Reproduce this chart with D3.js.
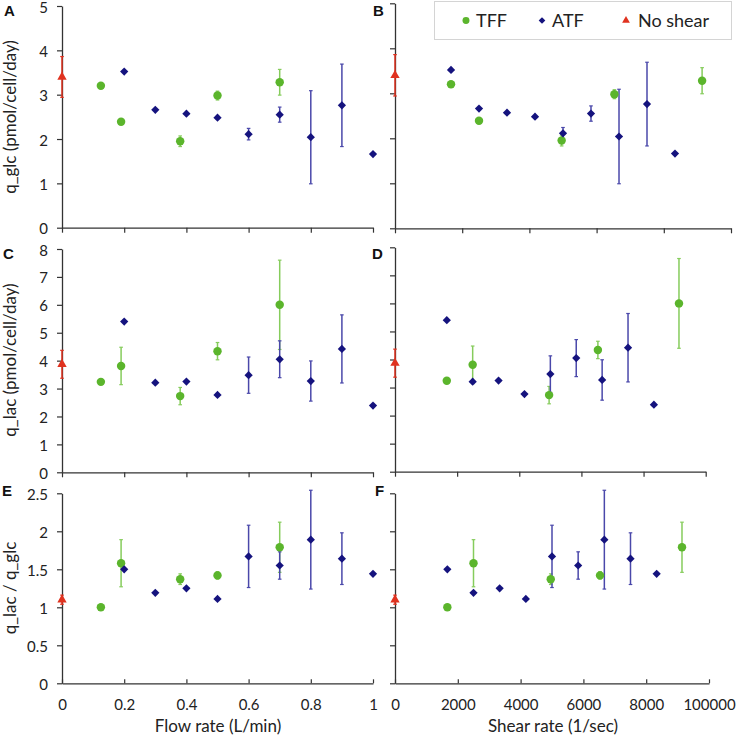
<!DOCTYPE html>
<html>
<head>
<meta charset="utf-8">
<script src="https://cdn.jsdelivr.net/npm/d3@7"></script>
<style>
  html, body { margin: 0; padding: 0; background: #fff; }
  svg { display: block; font-family: Lato, 'Open Sans', sans-serif; }
</style>
</head>
<body>
<div id="chart"></div>
<script>
// ---- data ----
var flowTFF  = [0.125, 0.19, 0.38, 0.5, 0.7];
var shearTFF = [1667, 2500, 4960, 6530, 9140];
var flowATF  = [0.2, 0.3, 0.4, 0.5, 0.6, 0.7, 0.8, 0.9, 1.0];
var shearATF = [1667, 2500, 3333, 4167, 5000, 5833, 6667, 7500, 8333];

var glcTFF     = [3.20, 2.39, 1.95, 2.98, 3.28];
var glcTFFerr  = [0, 0, 0.12, 0.10, 0.29];
var glcATF     = [3.52, 2.66, 2.57, 2.48, 2.11, 2.55, 2.04, 2.76, 1.66];
var glcATFerr  = [0, 0, 0, 0, 0.13, 0.17, 1.05, 0.93, 0];
var glcNoShear = [3.40], glcNoShearErr = [0.46];

var lacTFF     = [3.24, 3.81, 2.73, 4.34, 6.00];
var lacTFFerr  = [0, 0.67, 0.31, 0.31, 1.60];
var lacATF     = [5.40, 3.21, 3.25, 2.77, 3.48, 4.05, 3.27, 4.42, 2.39];
var lacATFerr  = [0, 0, 0, 0, 0.65, 0.66, 0.72, 1.22, 0];
var lacNoShear = [3.87], lacNoShearErr = [0.50];

var ratioTFF     = [1.00, 1.58, 1.37, 1.42, 1.79];
var ratioTFFerr  = [0, 0.31, 0.07, 0.05, 0.33];
var ratioATF     = [1.50, 1.19, 1.25, 1.11, 1.67, 1.55, 1.89, 1.64, 1.44];
var ratioATFerr  = [0, 0, 0, 0, 0.41, 0.18, 0.65, 0.34, 0];
var ratioNoShear = [1.10], ratioNoShearErr = [0.06];

var flowTicks   = [0, 0.2, 0.4, 0.6, 0.8, 1];
var flowLabels  = ['0', '0.2', '0.4', '0.6', '0.8', '1'];
var shearTicks  = [0, 2000, 4000, 6000, 8000, 10000];
var shearLabels = ['0', '2000', '4000', '6000', '8000', '100000'];
var glcTicks    = [0, 1, 2, 3, 4, 5];
var lacTicks    = [0, 1, 2, 3, 4, 5, 6, 7, 8];
var ratioTicks  = [0, 0.5, 1, 1.5, 2, 2.5];

var colTFF = '#5bb52c', colTFFerr = '#86cc5c';
var colATF = '#15137e', colATFerr = '#4a48aa';
var colNo  = '#e0321f';

var W = 736, H = 736;
var svg = d3.select('#chart').append('svg').attr('width', W).attr('height', H);

// panel layout (pixel boxes)
var panels = [
  { id: 'A', x0: 62,  x1: 373,   yb: 227.7, yt: 6,     ymax: 5,   yTicks: glcTicks,   flow: true,  leftLabels: true,  bottom: false,
    tff: glcTFF, tffErr: glcTFFerr, atf: glcATF, atfErr: glcATFerr, no: glcNoShear, noErr: glcNoShearErr, lx: 4, ly: 16 },
  { id: 'B', x0: 395, x1: 731,   yb: 228.3, yt: 3.3,   ymax: 5,   yTicks: glcTicks,   flow: false, leftLabels: false, bottom: false,
    tff: glcTFF, tffErr: glcTFFerr, atf: glcATF, atfErr: glcATFerr, no: glcNoShear, noErr: glcNoShearErr, lx: 373, ly: 16 },
  { id: 'C', x0: 62,  x1: 373,   yb: 472.3, yt: 249,   ymax: 8,   yTicks: lacTicks,   flow: true,  leftLabels: true,  bottom: false,
    tff: lacTFF, tffErr: lacTFFerr, atf: lacATF, atfErr: lacATFerr, no: lacNoShear, noErr: lacNoShearErr, lx: 3, ly: 259 },
  { id: 'D', x0: 395, x1: 705.7, yb: 471.7, yt: 247.3, ymax: 8,   yTicks: lacTicks,   flow: false, leftLabels: false, bottom: false,
    tff: lacTFF, tffErr: lacTFFerr, atf: lacATF, atfErr: lacATFerr, no: lacNoShear, noErr: lacNoShearErr, lx: 372, ly: 259 },
  { id: 'E', x0: 62,  x1: 373,   yb: 683.3, yt: 493.3, ymax: 2.5, yTicks: ratioTicks, flow: true,  leftLabels: true,  bottom: true,
    tff: ratioTFF, tffErr: ratioTFFerr, atf: ratioATF, atfErr: ratioATFerr, no: ratioNoShear, noErr: ratioNoShearErr, lx: 2, ly: 496 },
  { id: 'F', x0: 395, x1: 709,   yb: 683.3, yt: 493.3, ymax: 2.5, yTicks: ratioTicks, flow: false, leftLabels: false, bottom: true,
    tff: ratioTFF, tffErr: ratioTFFerr, atf: ratioATF, atfErr: ratioATFerr, no: ratioNoShear, noErr: ratioNoShearErr, lx: 375, ly: 496 }
];

var circleSym   = d3.symbol().type(d3.symbolCircle).size(56);
var diamondSym  = d3.symbol().type(d3.symbolSquare).size(34);
var triangleSym = d3.symbol().type(d3.symbolTriangle).size(38);

function styleAxis(ax) {
  ax.select('.domain').attr('stroke', '#333').attr('stroke-width', 1.3);
  ax.selectAll('.tick line').attr('stroke', '#333').attr('stroke-width', 1.2);
  ax.selectAll('.tick text').attr('fill', '#222').style('font-size', '15px')
    .style('font-family', 'Lato, sans-serif');
}

function errBars(g, pts, color) {
  var eb = g.append('g');
  pts.filter(function(d){ return d.e > 0; }).forEach(function(d){
    eb.append('line').attr('x1', d.px).attr('x2', d.px).attr('y1', d.top).attr('y2', d.bot)
      .attr('stroke', color).attr('stroke-width', 1.5);
    [d.top, d.bot].forEach(function(yy){
      eb.append('line').attr('x1', d.px - 1.8).attr('x2', d.px + 1.8).attr('y1', yy).attr('y2', yy)
        .attr('stroke', color).attr('stroke-width', 1.2);
    });
  });
}

panels.forEach(function(p) {
  var x = d3.scaleLinear().domain(p.flow ? [0, 1] : [0, 10000]).range([p.x0, p.x1]);
  var y = d3.scaleLinear().domain([0, p.ymax]).range([p.yb, p.yt]);
  var g = svg.append('g');

  // x axis
  var ticks = p.flow ? flowTicks : shearTicks;
  var labels = p.flow ? flowLabels : shearLabels;
  var xa = d3.axisBottom(x).tickValues(ticks).tickSizeOuter(0)
    .tickFormat(function(d, i){ return p.bottom ? labels[i] : ''; });
  if (p.bottom) xa.tickSizeInner(-4).tickPadding(16); else xa.tickSizeInner(5);
  var gx = g.append('g').attr('transform', 'translate(0,' + p.yb + ')').call(xa);
  styleAxis(gx);

  // y axis
  var ya = d3.axisLeft(y).tickValues(p.yTicks).tickSizeOuter(0).tickSizeInner(5).tickPadding(9)
    .tickFormat(function(d){ return p.leftLabels ? d3.format('')(d) : ''; });
  var gy = g.append('g').attr('transform', 'translate(' + p.x0 + ',0)').call(ya);
  styleAxis(gy);
  gy.selectAll('.tick text').attr('dy', '0.4em');

  // panel letter
  svg.append('text').attr('x', p.lx).attr('y', p.ly)
    .style('font-family', "'Liberation Sans', Arial, sans-serif").style('font-weight', 'bold')
    .style('font-size', '15px').attr('fill', '#111').text(p.id);

  var tffX = p.flow ? flowTFF : shearTFF;
  var atfX = p.flow ? flowATF : shearATF;
  function pts(xs, ys, es) {
    return ys.map(function(v, i){
      return { px: x(xs[i]), py: y(v), e: es[i], top: y(v + es[i]), bot: y(v - es[i]) };
    });
  }
  var tffPts = pts(tffX, p.tff, p.tffErr);
  var atfPts = pts(atfX, p.atf, p.atfErr);
  var noPts  = pts([0], p.no, p.noErr);

  errBars(g, noPts, colNo);
  errBars(g, tffPts, colTFFerr);
  errBars(g, atfPts, colATFerr);

  g.selectAll('path.no').data(noPts).enter().append('path').attr('class', 'no')
    .attr('d', triangleSym).attr('fill', colNo)
    .attr('transform', function(d){ return 'translate(' + d.px + ',' + d.py + ')'; });
  g.selectAll('path.tff').data(tffPts).enter().append('path').attr('class', 'tff')
    .attr('d', circleSym).attr('fill', colTFF)
    .attr('transform', function(d){ return 'translate(' + d.px + ',' + d.py + ')'; });
  g.selectAll('path.atf').data(atfPts).enter().append('path').attr('class', 'atf')
    .attr('d', diamondSym).attr('fill', colATF)
    .attr('transform', function(d){ return 'translate(' + d.px + ',' + d.py + ') rotate(45)'; });
});

// axis titles
function yTitle(txt, cy) {
  svg.append('text').attr('transform', 'translate(16,' + cy + ') rotate(-90)')
    .attr('text-anchor', 'middle').style('font-size', '17px').attr('fill', '#222').text(txt);
}
yTitle('q_glc (pmol/cell/day)', 117);
yTitle('q_lac (pmol/cell/day)', 360);
yTitle('q_lac / q_glc', 588);

svg.append('text').attr('x', 218).attr('y', 732).attr('text-anchor', 'middle')
  .style('font-size', '17px').attr('fill', '#222').text('Flow rate (L/min)');
svg.append('text').attr('x', 553).attr('y', 732).attr('text-anchor', 'middle')
  .style('font-size', '17px').attr('fill', '#222').text('Shear rate (1/sec)');

// legend
var legend = svg.append('g');
legend.append('rect').attr('x', 434.5).attr('y', 1.5).attr('width', 297).attr('height', 38)
  .attr('fill', '#fff').attr('stroke', '#d4d4d4').attr('stroke-width', 1);
var legItems = [
  { label: 'TFF', sym: d3.symbolCircle, size: 38, color: colTFF, cx: 466, tx: 476, rot: 0 },
  { label: 'ATF', sym: d3.symbolSquare, size: 22, color: colATF, cx: 542, tx: 552, rot: 45 },
  { label: 'No shear', sym: d3.symbolTriangle, size: 26, color: colNo, cx: 626, tx: 638, rot: 0 }
];
legItems.forEach(function(it){
  legend.append('path').attr('d', d3.symbol().type(it.sym).size(it.size)())
    .attr('fill', it.color)
    .attr('transform', 'translate(' + it.cx + ',20.5) rotate(' + it.rot + ')');
  legend.append('text').attr('x', it.tx).attr('y', 27).style('font-size', '18px')
    .attr('fill', '#222').text(it.label);
});
</script>
</body>
</html>
